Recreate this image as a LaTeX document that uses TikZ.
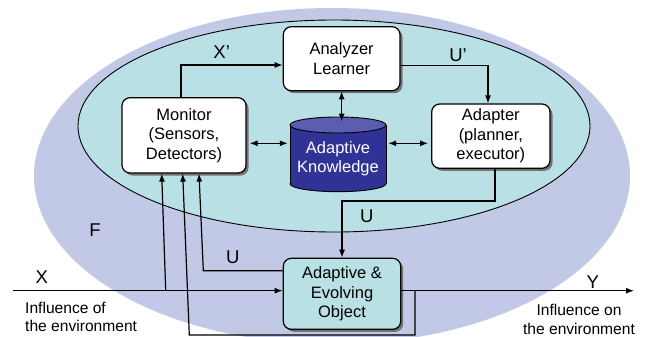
\documentclass[tikz,border=0pt]{standalone}
\usepackage{fontspec}
\setmainfont{Liberation Sans}
\usetikzlibrary{arrows.meta,shadows,calc}
\definecolor{outerc}{RGB}{193,201,230}
\definecolor{innerc}{RGB}{185,224,228}
\definecolor{kbody}{RGB}{48,50,150}
\definecolor{ktop}{RGB}{92,92,176}
\newcommand\bxfont{\fontsize{16.5}{19.5}\selectfont}
\newcommand\lbfont{\fontsize{18.5}{20}\selectfont}
\newcommand\evfont{\fontsize{15.6}{18.5}\selectfont}
\begin{document}
\begin{tikzpicture}[x=1pt,y=-1pt,
  box/.style={draw=black, line width=1.2pt, rounded corners=8pt, fill=white,
    align=center, font=\bxfont, inner sep=0pt,
    drop shadow={shadow xshift=2.5pt, shadow yshift=-2.5pt, fill=black!55, opacity=1}},
  arr/.style={draw=black, line width=1.2pt, -{Latex[length=8pt,width=6pt]}},
  darr/.style={draw=black, line width=1.2pt, {Latex[length=8pt,width=6pt]}-{Latex[length=8pt,width=6pt]}},
  lab/.style={font=\lbfont, inner sep=0pt},
  env/.style={font=\evfont, inner sep=0pt}]
\useasboundingbox (0,0) rectangle (656,337);
\begin{scope}
  \clip (0,0) rectangle (656,337);
  \fill[outerc] (332,176) ellipse [x radius=298pt, y radius=168pt];
\end{scope}
\filldraw[fill=innerc, draw=black, line width=0.9pt] (334,126) ellipse [x radius=256pt, y radius=106pt];

% cylinder
\filldraw[fill=kbody, draw=black, line width=0.9pt] (338,183.7) ellipse [x radius=48pt, y radius=8pt];
\fill[kbody] (290,125) rectangle (386,183.7);
\draw[line width=0.9pt] (290,125) -- (290,183.7);
\draw[line width=0.9pt] (386,125) -- (386,183.7);
\filldraw[fill=ktop, draw=black, line width=0.9pt] (338,125) ellipse [x radius=48pt, y radius=8pt];
\node[minimum width=96pt, minimum height=73.4pt, inner sep=0pt, align=center, text=white, font=\bxfont] (kn) at (338,158.5) {Adaptive\\Knowledge};

% boxes
\node[box, minimum width=124pt, minimum height=75.3pt] (mon) at (184,135.35) {Monitor\\(Sensors,\\Detectors)};
\node[box, minimum width=116.7pt, minimum height=64pt] (an) at (341.65,58.7) {Analyzer\\Learner};
\node[box, minimum width=118.3pt, minimum height=64.3pt] (ad) at (490.85,136.15) {Adapter\\(planner,\\executor)};
\node[box, fill=innerc, minimum width=117.4pt, minimum height=71pt] (obj) at (342,293.8) {Adaptive \&\\Evolving\\Object};

% connectors inside
\coordinate (m) at (0,143.3);
\draw[darr, shorten <=3pt, shorten >=2pt] (mon.east |- m) -- (kn.west |- m);
\draw[darr, shorten <=2pt, shorten >=3pt] (kn.east |- m) -- (ad.west |- m);
\draw[darr] (an.south) -- (an.south |- kn.north);
\draw[arr] ([xshift=-3pt]mon.north) |- ([yshift=-6.3pt]an.west);
\draw[arr] ([yshift=-7pt]an.east) -| ([xshift=-2.85pt]ad.north);
\draw[arr] ([xshift=4.15pt]ad.south) -- ++(0,32) -| (obj.north);

% outer connectors
\coordinate (xin) at (12.7,290.7);
\coordinate (yout) at (634,290.7);
\coordinate (br) at (165.7,290.7);
\coordinate (lpa) at (415,290.7);
\coordinate (lpb) at (415,335);
\coordinate (lpc) at (189.3,335);
\coordinate (ufb) at (203.3,270.7);
\draw[arr] (xin) -- (xin -| obj.west);
\draw[arr] (obj.east |- xin) -- (yout);
\draw[arr] (br) -- ([xshift=-22.3pt]mon.south);
\draw[arr] (lpa) -- (lpb) -- (lpc) -- ([xshift=-1.3pt]mon.south);
\draw[arr] (obj.west |- ufb) -- (ufb) -- ([xshift=15pt]mon.south);

% labels
\node[lab] (lxp) at (221.7,51.7) {X’};
\node[lab] (lup) at (458,55) {U’};
\node[lab] (lu1) at (366.7,216.7) {U};
\node[lab] (lu2) at (232.7,257.3) {U};
\node[lab] (lf) at (95,230) {F};
\node[lab] (lx) at (41.7,276.7) {X};
\node[lab] (ly) at (592.7,281.7) {Y};
\node[env, align=left, anchor=west] (ein) at (25,317) {Influence of\\the environment};
\node[env, align=center] (eout) at (579,319.5) {Influence on\\the environment};
\end{tikzpicture}
\end{document}
